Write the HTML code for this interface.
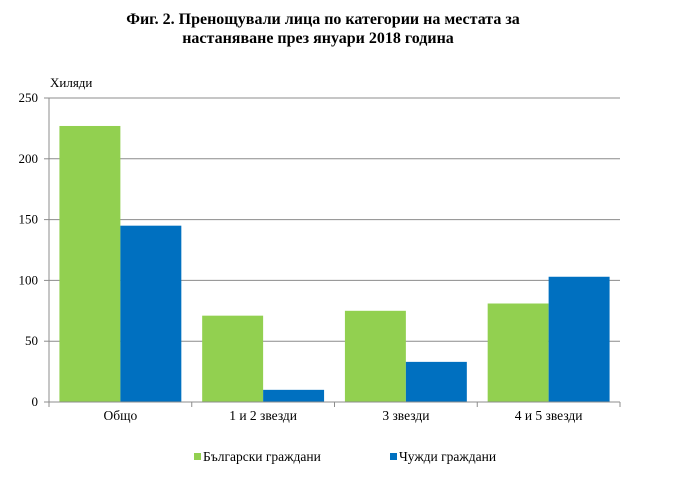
<!DOCTYPE html>
<html><head><meta charset="utf-8"><style>
body{margin:0;background:#fff;width:680px;height:483px;overflow:hidden;font-family:"Liberation Serif",serif}
</style></head><body>
<svg id="chart" width="680" height="483" xmlns="http://www.w3.org/2000/svg" font-family="Liberation Serif, serif">
<text x="323" y="24" text-anchor="middle" font-size="16" font-weight="bold">Фиг. 2. Пренощували лица по категории на местата за</text>
<text x="318" y="43" text-anchor="middle" font-size="16" font-weight="bold">настаняване през януари 2018 година</text>
<text x="50" y="87" font-size="13">Хиляди</text>
<g id="grid"></g><g id="bars"></g><g id="axes"></g>
<g>
<rect x="194" y="453" width="7" height="7" fill="#92d050"/>
<text x="203" y="461" font-size="13.5">Български граждани</text>
<rect x="390" y="453" width="7" height="7" fill="#0070c0"/>
<text x="399" y="461" font-size="13.5">Чужди граждани</text>
</g>
</svg>
<script>
const categories=["Общо","1 и 2 звезди","3 звезди","4 и 5 звезди"];
const bulgarian=[227,71,75,81];
const foreign=[145,10,33,103];
const ticks=[0,50,100,150,200,250];
const NS="http://www.w3.org/2000/svg";
const X0=49,X1=620,Y0=402,Y1=98,MAX=250;
const y=v=>Y0-(v/MAX)*(Y0-Y1);
const cw=(X1-X0)/categories.length;
function mk(t,a,p){const e=document.createElementNS(NS,t);for(const k in a)e.setAttribute(k,a[k]);p.appendChild(e);return e;}
const grid=document.getElementById('grid'),bars=document.getElementById('bars'),axes=document.getElementById('axes');
ticks.forEach(t=>{
 const l=mk('line',{x1:X0,x2:X1,y1:y(t),y2:y(t),stroke:'#8c8c8c','stroke-width':1},grid);
 
 
 const tk=mk('line',{x1:X0-5,x2:X0,y1:y(t),y2:y(t),stroke:'#8c8c8c'},axes);
 
 
 const tx=mk('text',{x:X0-11,y:y(t)+4,'text-anchor':'end','font-size':13},axes);
 tx.textContent=t;
 
 
});
const bw=cw*0.427,gap=(cw-2*bw)/2;
categories.forEach((c,i)=>{
 const cx=X0+i*cw;
 const g=mk('rect',{x:cx+gap,y:y(bulgarian[i]),width:bw,height:Y0-y(bulgarian[i]),fill:'#92d050'},bars);
 
 
 const b=mk('rect',{x:cx+gap+bw,y:y(foreign[i]),width:bw,height:Y0-y(foreign[i]),fill:'#0070c0'},bars);
 
 
 const tk=mk('line',{x1:cx+cw,x2:cx+cw,y1:Y0,y2:Y0+5,stroke:'#8c8c8c'},axes);
 
 
 const t=mk('text',{x:cx+cw/2,y:Y0+18,'text-anchor':'middle','font-size':13.5},axes);
 t.textContent=c;
 
 
});
const ya=mk('line',{x1:X0,x2:X0,y1:Y1,y2:Y0+5,stroke:'#8c8c8c'},axes);


const xa=mk('line',{x1:X0,x2:X1,y1:Y0,y2:Y0,stroke:'#8c8c8c'},axes);


</script>
</body></html>
